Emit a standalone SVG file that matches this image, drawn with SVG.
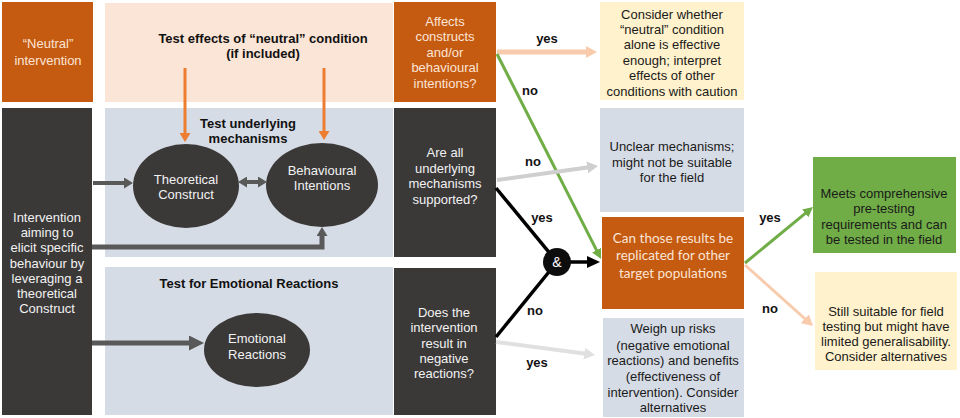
<svg xmlns="http://www.w3.org/2000/svg" width="960" height="418" viewBox="0 0 960 418">
<style>
text{font-family:"Liberation Sans",Arial,sans-serif;font-size:13px;text-anchor:middle}
.b{font-weight:bold;fill:#111}
.w{fill:#F2F2F2}
.pk{fill:#FBE5D6}
.d{fill:#1a1a1a}
.cal{font-family:Lato,"Open Sans",sans-serif;font-size:13.5px;fill:#FBE5D6}
.lbl{font-weight:bold;fill:#111}
.ln{fill:none}
</style>
<defs>
<marker id="m-or" viewBox="0 0 9 11" markerWidth="9" markerHeight="11" refX="2" refY="5.5" orient="auto" markerUnits="userSpaceOnUse"><path d="M0,0 L9,5.5 L0,11 z" fill="#ED7D31"/></marker>
<marker id="m-dk" viewBox="0 0 9 11" markerWidth="9" markerHeight="11" refX="2" refY="5.5" orient="auto-start-reverse" markerUnits="userSpaceOnUse"><path d="M0,0 L9,5.5 L0,11 z" fill="#595959"/></marker>
<marker id="m-dkL" viewBox="0 0 15 15" markerWidth="15" markerHeight="15" refX="2" refY="7.5" orient="auto" markerUnits="userSpaceOnUse"><path d="M0,0 L15,7.5 L0,15 z" fill="#595959"/></marker>
<marker id="m-pe" viewBox="0 0 11 12" markerWidth="11" markerHeight="12" refX="2" refY="6" orient="auto" markerUnits="userSpaceOnUse"><path d="M0,0 L11,6 L0,12 z" fill="#F8CBAD"/></marker>
<marker id="m-gr" viewBox="0 0 10 10" markerWidth="10" markerHeight="10" refX="2" refY="5" orient="auto" markerUnits="userSpaceOnUse"><path d="M0,0 L10,5 L0,10 z" fill="#70AD47"/></marker>
<marker id="m-gy" viewBox="0 0 11 12" markerWidth="11" markerHeight="12" refX="2" refY="6" orient="auto" markerUnits="userSpaceOnUse"><path d="M0,0 L11,6 L0,12 z" fill="#CFCFCF"/></marker>
<marker id="m-gyL" viewBox="0 0 11 12" markerWidth="11" markerHeight="12" refX="2" refY="6" orient="auto" markerUnits="userSpaceOnUse"><path d="M0,0 L11,6 L0,12 z" fill="#E0E0E0"/></marker>
<marker id="m-bk" viewBox="0 0 13 12" markerWidth="13" markerHeight="12" refX="2" refY="6" orient="auto" markerUnits="userSpaceOnUse"><path d="M0,0 L13,6 L0,12 z" fill="#000"/></marker>
</defs>
<rect width="960" height="418" fill="#fff"/>

<g id="neutral-intervention">
<rect x="2" y="2" width="91" height="100" fill="#C55A11"/>
<text class="pk" x="48" y="47.5">“Neutral”</text>
<text class="pk" x="48" y="64.5">intervention</text>
</g>
<g id="test-neutral">
<rect x="105" y="3" width="288" height="99" fill="#FBE5D6"/>
<text class="b" x="263" y="42.5">Test effects of “neutral” condition</text>
<text class="b" x="263" y="57.5">(if included)</text>
</g>
<g id="intervention">
<rect x="2" y="108" width="90" height="307" fill="#3B3838"/>
<text class="w" x="47" y="221.5">Intervention</text>
<text class="w" x="47" y="236.5">aiming to</text>
<text class="w" x="47" y="251.5">elicit specific</text>
<text class="w" x="47" y="267.5">behaviour by</text>
<text class="w" x="47" y="282.5">leveraging a</text>
<text class="w" x="47" y="297.5">theoretical</text>
<text class="w" x="47" y="312.5">Construct</text>
</g>
<g id="test-mechanisms">
<rect x="105" y="108" width="288" height="149" fill="#D6DCE5"/>
<text class="b" x="248" y="127.5">Test underlying</text>
<text class="b" x="248" y="142.5">mechanisms</text>
</g>
<g id="test-emotional">
<rect x="105" y="267" width="288" height="148" fill="#D6DCE5"/>
<text class="b" x="249" y="287.5">Test for Emotional Reactions</text>
</g>
<g id="theoretical-construct">
<ellipse cx="186" cy="186" rx="53" ry="42" fill="#3B3838"/>
<text class="w" x="186" y="183.5">Theoretical</text>
<text class="w" x="186" y="198.5">Construct</text>
</g>
<g id="behavioural-intentions">
<ellipse cx="322" cy="185" rx="56" ry="42" fill="#3B3838"/>
<text class="w" x="322" y="174.5">Behavioural</text>
<text class="w" x="322" y="189.5">Intentions</text>
</g>
<g id="emotional-reactions">
<ellipse cx="257" cy="350" rx="53" ry="37" fill="#3B3838"/>
<text class="w" x="257" y="342.5">Emotional</text>
<text class="w" x="257" y="358.5">Reactions</text>
</g>
<g id="affects">
<rect x="394" y="2" width="102" height="100" fill="#C55A11"/>
<text class="pk" x="445" y="25.5">Affects</text>
<text class="pk" x="445" y="40.5">constructs</text>
<text class="pk" x="445" y="56.5">and/or</text>
<text class="pk" x="445" y="71.5">behavioural</text>
<text class="pk" x="445" y="87.5">intentions?</text>
</g>
<g id="supported">
<rect x="394" y="108" width="102" height="149" fill="#3B3838"/>
<text class="w" x="445" y="156.5">Are all</text>
<text class="w" x="445" y="172.5">underlying</text>
<text class="w" x="445" y="187.5">mechanisms</text>
<text class="w" x="445" y="203.5">supported?</text>
</g>
<g id="negative">
<rect x="394" y="268" width="102" height="147" fill="#3B3838"/>
<text class="w" x="444" y="316.5">Does the</text>
<text class="w" x="444" y="331.5">intervention</text>
<text class="w" x="444" y="347.5">result in</text>
<text class="w" x="444" y="362.5">negative</text>
<text class="w" x="444" y="377.5">reactions?</text>
</g>
<g id="consider">
<rect x="600" y="2" width="144" height="98" fill="#FFF2CC"/>
<text class="d" x="672" y="18.5">Consider whether</text>
<text class="d" x="672" y="33.5">“neutral” condition</text>
<text class="d" x="672" y="48.5">alone is effective</text>
<text class="d" x="672" y="64.5">enough; interpret</text>
<text class="d" x="672" y="79.5">effects of other</text>
<text class="d" x="672" y="95.5">conditions with caution</text>
</g>
<g id="unclear">
<rect x="600" y="108" width="144" height="104" fill="#D6DCE5"/>
<text class="d" x="672" y="150.5">Unclear mechanisms;</text>
<text class="d" x="672" y="166.5">might not be suitable</text>
<text class="d" x="672" y="181.5">for the field</text>
</g>
<g id="replicate">
<rect x="602" y="217" width="142" height="92" fill="#C55A11"/>
<text class="cal" x="673" y="243">Can those results be</text>
<text class="cal" x="673" y="260">replicated for other</text>
<text class="cal" x="673" y="278">target populations</text>
</g>
<g id="weigh">
<rect x="603" y="318" width="141" height="99" fill="#D6DCE5"/>
<text class="d" x="673" y="332.5">Weigh up risks</text>
<text class="d" x="673" y="349.5">(negative emotional</text>
<text class="d" x="673" y="364.5">reactions) and benefits</text>
<text class="d" x="673" y="380.5">(effectiveness of</text>
<text class="d" x="673" y="396.5">intervention). Consider</text>
<text class="d" x="673" y="411.5">alternatives</text>
</g>
<g id="meets">
<rect x="813" y="157" width="143" height="96" fill="#70AD47"/>
<text class="d" x="884" y="197.5">Meets comprehensive</text>
<text class="d" x="884" y="212.5">pre-testing</text>
<text class="d" x="884" y="228.5">requirements and can</text>
<text class="d" x="884" y="243.5">be tested in the field</text>
</g>
<g id="still-suitable">
<rect x="815" y="272" width="142" height="98" fill="#FFF2CC"/>
<text class="d" x="886" y="315.5">Still suitable for field</text>
<text class="d" x="886" y="330.5">testing but might have</text>
<text class="d" x="886" y="345.5">limited generalisability.</text>
<text class="d" x="886" y="360.5">Consider alternatives</text>
</g>

<g id="connectors">
<line x1="185" y1="68" x2="185" y2="135" stroke="#ED7D31" stroke-width="3" marker-end="url(#m-or)"/>
<line x1="324" y1="68" x2="324" y2="133" stroke="#ED7D31" stroke-width="3" marker-end="url(#m-or)"/>
<line x1="93" y1="183" x2="126" y2="183" stroke="#595959" stroke-width="4" marker-end="url(#m-dk)"/>
<line x1="245" y1="182" x2="260" y2="182" stroke="#595959" stroke-width="4" marker-start="url(#m-dk)" marker-end="url(#m-dk)"/>
<path class="ln" d="M92,247 H322 V234" stroke="#595959" stroke-width="5" marker-end="url(#m-dk)"/>
<line x1="92" y1="343" x2="191" y2="343" stroke="#595959" stroke-width="5" marker-end="url(#m-dkL)"/>
<line x1="497" y1="52" x2="588" y2="52" stroke="#F8CBAD" stroke-width="5" marker-end="url(#m-pe)"/>
<line x1="497" y1="54" x2="597.4" y2="251.9" stroke="#70AD47" stroke-width="3" marker-end="url(#m-gr)"/>
<line x1="497" y1="180" x2="589.1" y2="167.2" stroke="#CFCFCF" stroke-width="4" marker-end="url(#m-gy)"/>
<line x1="496" y1="188" x2="557" y2="262" stroke="#000" stroke-width="3.5"/>
<line x1="496" y1="337" x2="557" y2="262" stroke="#000" stroke-width="3.5"/>
<line x1="557" y1="262" x2="589" y2="262" stroke="#000" stroke-width="3.5" marker-end="url(#m-bk)"/>
<line x1="496" y1="342" x2="586.1" y2="353.8" stroke="#E0E0E0" stroke-width="4" marker-end="url(#m-gyL)"/>
<line x1="745" y1="263" x2="806.8" y2="212.1" stroke="#70AD47" stroke-width="3" marker-end="url(#m-gr)"/>
<line x1="745" y1="265" x2="806.3" y2="320" stroke="#F8CBAD" stroke-width="3" marker-end="url(#m-pe)"/>
<text class="lbl" x="547" y="42.5">yes</text>
<text class="lbl" x="530" y="94.5">no</text>
<text class="lbl" x="533" y="165.5">no</text>
<text class="lbl" x="542" y="221.5">yes</text>
<text class="lbl" x="535" y="314.5">no</text>
<text class="lbl" x="537" y="366.5">yes</text>
<text class="lbl" x="770" y="221.5">yes</text>
<text class="lbl" x="770" y="312.5">no</text>
</g>
<g id="and-junction">
<circle cx="557" cy="262" r="14" fill="#0D0D0D"/>
<text x="557" y="267" style="fill:#fff;font-size:14px">&amp;</text>
</g>
</svg>
